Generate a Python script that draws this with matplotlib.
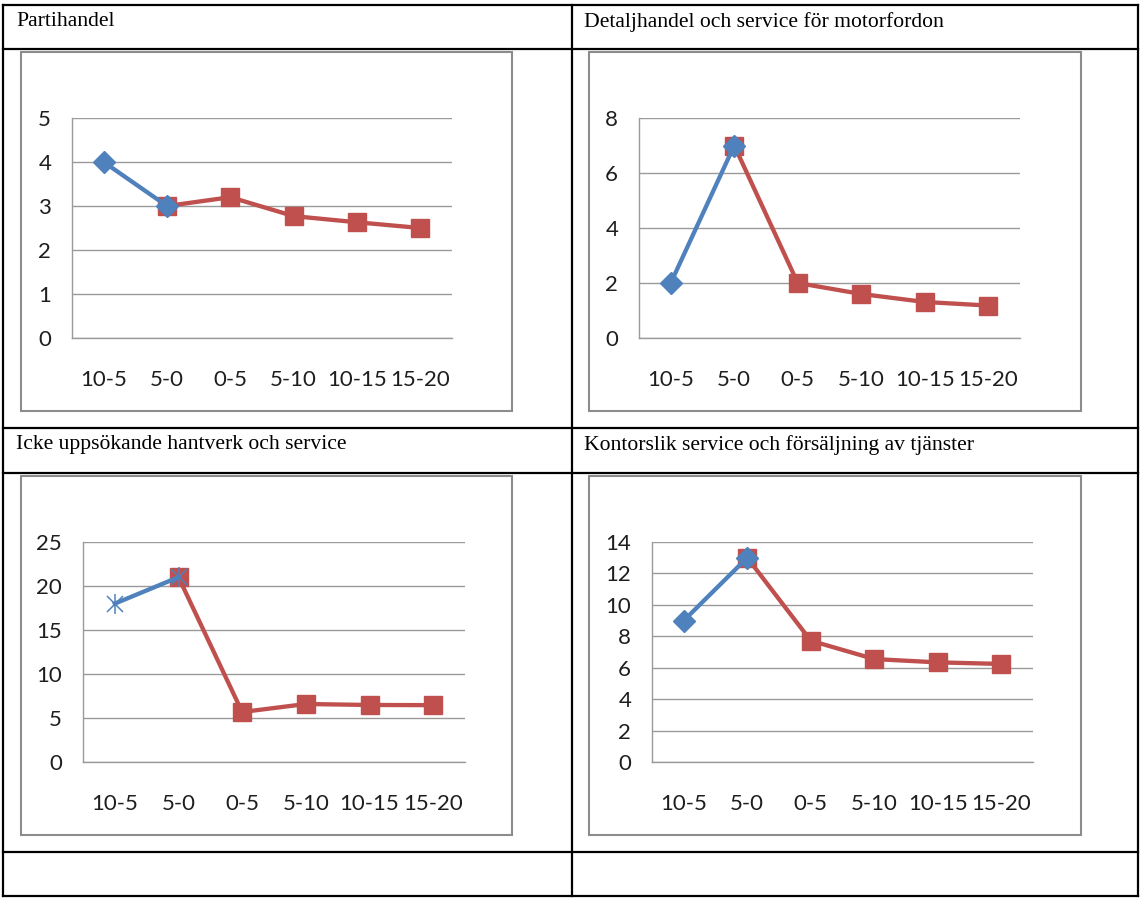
import numpy as np
import matplotlib
matplotlib.use('agg')
import matplotlib.pyplot as plt
from matplotlib.patches import Rectangle

W, H = 1140, 898

categories = ['10-5', '5-0', '0-5', '5-10', '10-15', '15-20']
titles = ['Partihandel',
          'Detaljhandel och service för motorfordon',
          'Icke uppsökande hantverk och service',
          'Kontorslik service och försäljning av tjänster']

# blue series: the two "before" points, red series: from 5-0 onwards
blue_part = [4, 3]
red_part = [np.nan, 3, 3.2, 2.77, 2.63, 2.5]
blue_motor = [2, 7]
red_motor = [np.nan, 7, 2, 1.6, 1.31, 1.18]
blue_hant = [18, 21]
red_hant = [np.nan, 21, 5.68, 6.59, 6.48, 6.46]
blue_kontor = [9, 13]
red_kontor = [np.nan, 13, 7.72, 6.55, 6.34, 6.24]

y_max = [5, 8, 25, 14]
y_step = [1, 2, 5, 2]

BLUE = '#4F81BD'
RED = '#C0504D'
GRID = '#9a9a9a'

fig = plt.figure(figsize=(W / 100, H / 100), dpi=100)
bg = fig.add_axes([0, 0, 1, 1])
bg.set_xlim(0, W)
bg.set_ylim(H, 0)
bg.set_axis_off()

# table grid
for y in [5, 49, 428, 473, 852, 896]:
    bg.plot([3, 1138], [y, y], color='black', lw=1.6, solid_capstyle='projecting')
for x in [3, 571.5, 1138]:
    bg.plot([x, x], [5, 896], color='black', lw=1.6, solid_capstyle='projecting')

title_pos = [(16, 22), (584, 22), (16, 445), (584, 445)]
for t, (tx, ty) in zip(titles, title_pos):
    bg.text(tx, ty, t, family='Liberation Serif', fontsize=15.6, va='center', ha='left')

frames = [(21, 52, 512, 411), (589, 52, 1081, 411), (21, 476, 512, 835), (589, 476, 1081, 835)]
for x0, y0, x1, y1 in frames:
    bg.add_patch(Rectangle((x0, y0), x1 - x0, y1 - y0, fill=False, ec='#8c8c8c', lw=1.5))

plots = [(72, 118, 452, 338), (639, 118, 1020, 338), (83, 542, 465, 762), (652, 542, 1033, 762)]
blues = [blue_part, blue_motor, blue_hant, blue_kontor]
reds = [red_part, red_motor, red_hant, red_kontor]
blue_markers = ['D', 'D', 'star', 'D']

for i in range(4):
    x0, y0, x1, y1 = plots[i]
    ax = fig.add_axes([x0 / W, 1 - y1 / H, (x1 - x0) / W, (y1 - y0) / H])
    xs = np.arange(len(categories))
    ax.axhline(0, color=GRID, lw=1, clip_on=False, zorder=1)
    ax.plot(xs, reds[i], color=RED, lw=3.1, marker='s', markersize=13.5, zorder=3)
    if blue_markers[i] == 'D':
        ax.plot(xs[:2], blues[i], color=BLUE, lw=3.1, marker='D', markersize=11, zorder=4)
    else:
        ax.plot(xs[:2], blues[i], color=BLUE, lw=3.1, marker='x', markersize=12,
                markeredgewidth=1.1, zorder=4)
        ax.plot(xs[:2], blues[i], ls='none', color=BLUE, marker='|', markersize=15,
                markeredgewidth=1.1, zorder=4)
    ax.set_xlim(-0.5, len(categories) - 0.5)
    ax.set_ylim(0, y_max[i])
    ax.set_yticks(np.arange(0, y_max[i] + 0.01, y_step[i]))
    ax.set_xticks(xs)
    ax.set_xticklabels(categories)
    ax.grid(axis='y', color=GRID, lw=1)
    ax.set_axisbelow(True)
    for s in ['top', 'right', 'bottom']:
        ax.spines[s].set_visible(False)
    ax.spines['left'].set_color(GRID)
    ax.spines['left'].set_linewidth(1)
    ax.tick_params(axis='both', length=0, labelsize=16, labelcolor='#1e1e1e')
    ax.tick_params(axis='y', pad=15)
    ax.tick_params(axis='x', pad=23)
    for lab in ax.get_xticklabels() + ax.get_yticklabels():
        lab.set_family('Lato')
    ax.patch.set_alpha(0)

fig.savefig('out.png', dpi=100)
